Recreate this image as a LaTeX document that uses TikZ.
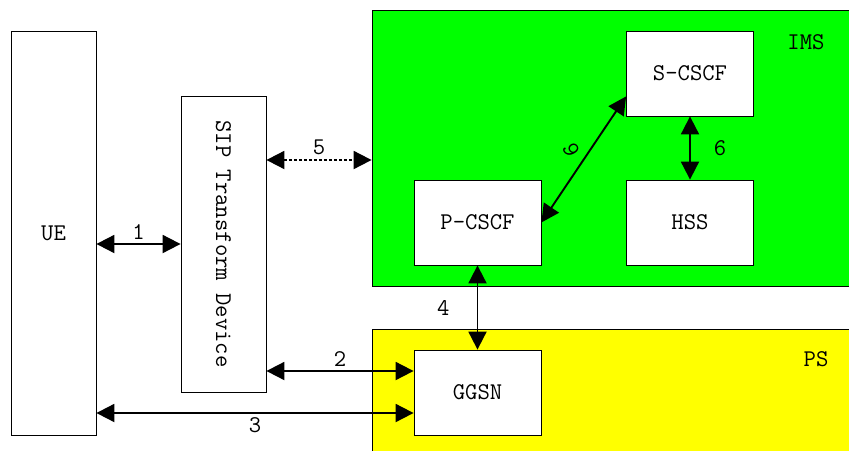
\documentclass[tikz,border=0pt]{standalone}
\usepackage{tikz}
\usetikzlibrary{arrows.meta}
\definecolor{imsgreen}{RGB}{0,255,0}
\definecolor{psyellow}{RGB}{255,255,0}

\begin{document}
\begin{tikzpicture}[
  x=1pt,y=1pt,
  >={Triangle[length=18pt,width=18pt]},
  fnt/.style={font=\fontsize{24}{26}\selectfont\ttfamily},
  box/.style={draw,line width=0.8pt,fill=white,minimum width=127pt,minimum height=85pt,fnt,inner sep=0pt},
  area/.style={draw,line width=0.8pt,minimum width=488pt,inner sep=0pt},
  link/.style={<->,line width=1.9pt},
  lab/.style={fnt,inner sep=1pt}
]
\useasboundingbox (0,0) rectangle (849,-450);
% domains
\node[area,fill=imsgreen,minimum height=276pt] (ims) at (616,-148) {};
\node[area,fill=psyellow,minimum height=131pt] (ps) at (616,-394.5) {};
\node[lab] (imsname) at (806,-42) {IMS};
\node[lab] (psname) at (816,-359) {PS};
% terminals
\node[box,minimum width=85pt,minimum height=404pt] (ue) at (53.5,-233) {UE};
\node[box,minimum width=85pt,minimum height=296pt] (sip) at (223.5,-244) {\rotatebox{-90}{SIP Transform Device}};
% network elements
\node[box] (scscf) at (690,-73.5) {S-CSCF};
\node[box] (pcscf) at (477.5,-222.5) {P-CSCF};
\node[box] (hss) at (690,-222.5) {HSS};
\node[box] (ggsn) at (477.5,-392.5) {GGSN};
% links
\draw[link] (ue.east |- sip.west) -- node[lab,above=3pt] (l1) {1} (sip.west);
\draw[link,dash pattern=on 3pt off 2pt] ([yshift=84pt]sip.east) -- node[lab,above=3pt] (l5) {5} ([yshift=-12pt]ims.west);
\draw[link] ([yshift=-127pt]sip.east) -- node[lab,above=3pt] (l2) {2} ([yshift=21.5pt]ggsn.west);
\draw[link] ([yshift=-180pt]ue.east) -- node[lab,below=3pt] (l3) {3} ([yshift=-20.5pt]ggsn.west);
\draw[link] (pcscf.south) -- node[lab,left=26pt] (l4) {4} (ggsn.north);
\draw[link] (pcscf.east) -- ([yshift=20pt]scscf.south west);
\node[lab,rotate=115] (l6a) at (571,-150) {6};
\draw[link] (scscf.south) -- node[lab,right=22pt] (l6b) {6} (hss.north);
\end{tikzpicture}
\end{document}
